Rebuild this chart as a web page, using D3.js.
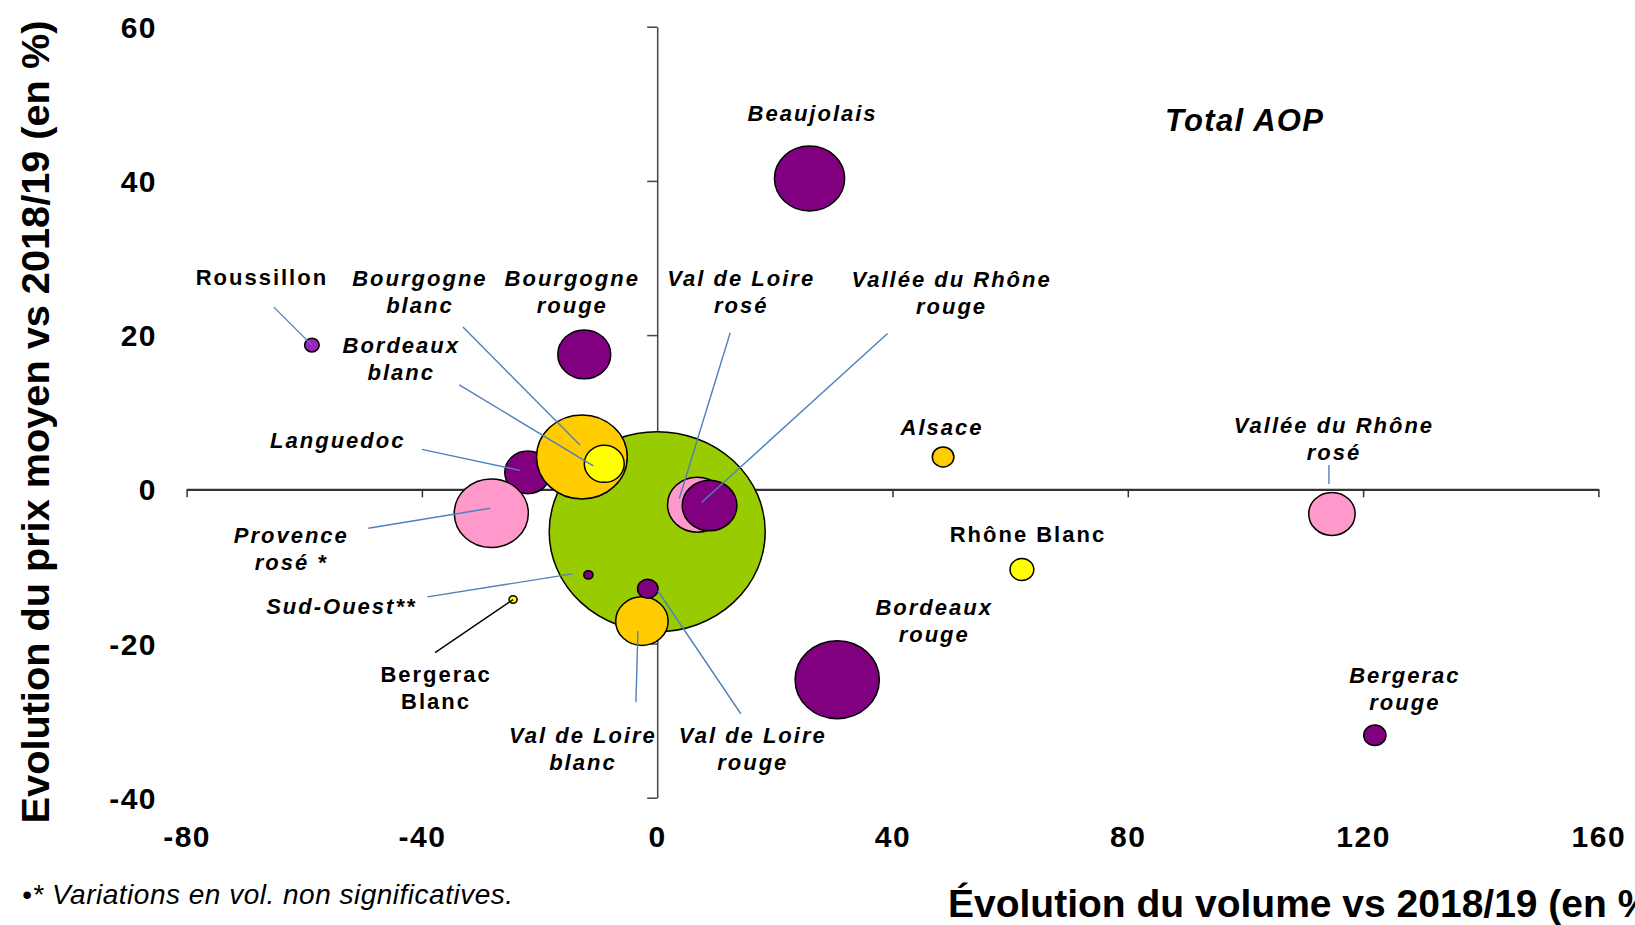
<!DOCTYPE html>
<html>
<head>
<meta charset="utf-8">
<script src="https://cdn.jsdelivr.net/npm/d3@7"></script>
<style>
  body { margin: 0; background: #fff; }
  svg { display: block; font-family: Arial, "Liberation Sans", sans-serif; }
</style>
</head>
<body>
<div id="bdy"></div>
<script>
var width = 1635;
var height = 925;

// appellations, drawn in this order (Excel series order)
var names = ["Total AOP", "Languedoc", "Provence\nrosé *", "Bourgogne\nblanc", "Bordeaux\nblanc",
    "Bourgogne\nrouge", "Roussillon", "Beaujolais", "Val de Loire\nrosé", "Vallée du Rhône\nrouge",
    "Alsace", "Vallée du Rhône\nrosé", "Rhône Blanc", "Sud-Ouest**", "Bergerac\nBlanc",
    "Val de Loire\nblanc", "Val de Loire\nrouge", "Bordeaux\nrouge", "Bergerac\nrouge"];
// evolution du volume vs 2018/19 (%)
var volEvol = [0, -22.0, -28.2, -12.8, -9.0, -12.4, -58.7, 25.9, 6.8, 8.9,
    48.6, 114.7, 62.0, -11.7, -24.5, -2.6, -1.6, 30.6, 122.0];
// evolution du prix moyen vs 2018/19 (%)
var prixEvol = [-5.5, 2.2, -3.1, 4.2, 3.3, 17.5, 18.7, 40.3, -2.0, -2.1,
    4.2, -3.2, -10.4, -11.1, -14.3, -17.1, -12.9, -24.7, -31.9];
// bubble size (volume, indice)
var volumes = [10000, 454, 1176, 1764, 342, 600, 46, 1056, 756, 640,
    100, 462, 121, 18, 14, 590, 90, 1521, 106];
// couleur par type de vin
var types = ["total", "rouge", "rose", "blanc2", "blanc", "rouge", "roussillon", "rouge", "rose", "rouge",
    "blanc2", "rose", "blanc", "rouge", "blanc", "blanc2", "rouge", "rouge", "rouge"];

var xTicks = [-80, -40, 0, 40, 80, 120, 160];
var yTicks = [-40, -20, 0, 20, 40, 60];

var colors = {
    total: "#99cc00", rouge: "#800080", rose: "#ff99cc",
    blanc: "#ffff00", blanc2: "#ffcc00", roussillon: "#a020c0"
};

// label placement, px offsets from the bubble centre
// [dx, dy, leader x1, y1, x2, y2, italic]
var labelLayout = {
    "Languedoc": [-190, -24, -106, -23, -8, -2, 1],
    "Provence\nrosé *": [-200, 30, -123, 15, -1, -5, 1],
    "Bourgogne\nblanc": [-162, -171, -119, -130, -2, -12, 1],
    "Bordeaux\nblanc": [-203, -111, -145, -79, -11, 2, 1],
    "Bourgogne\nrouge": [-12, -68, null, 0, 0, 0, 1],
    "Roussillon": [-50, -60, -38, -38, 0, 0, 0],
    "Beaujolais": [3, -58, null, 0, 0, 0, 1],
    "Val de Loire\nrosé": [44, -219, 33, -172, -18, -6, 1],
    "Vallée du Rhône\nrouge": [242, -218, 178, -172, -8, -3, 1],
    "Alsace": [-1, -22, null, 0, 0, 0, 1],
    "Vallée du Rhône\nrosé": [2, -81, -3, -49, -3, -30, 1],
    "Rhône Blanc": [6, -27, null, 0, 0, 0, 0],
    "Sud-Ouest**": [-247, 39, -161, 22, -16, -1, 1],
    "Bergerac\nBlanc": [-77, 82, -78, 53, 0, 0, 0],
    "Val de Loire\nblanc": [-59, 122, -6, 81, -4, 10, 1],
    "Val de Loire\nrouge": [105, 154, 93, 125, 10, 2, 1],
    "Bordeaux\nrouge": [97, -65, null, 0, 0, 0, 1],
    "Bergerac\nrouge": [30, -52, null, 0, 0, 0, 1]
};

var data = names.map(function(n, i) {
    return {name: n, x: volEvol[i], y: prixEvol[i], size: volumes[i], type: types[i]};
});

var svg = d3.select('#bdy').append('svg')
    .attr('width', width)
    .attr('height', height);

var xScale = d3.scaleLinear().domain([-80, 160]).range([186.6, 1598.4]);
var yScale = d3.scaleLinear().domain([-40, 60]).range([797.7, 26.7]);
var rScale = d3.scaleSqrt().domain([0, 10000]).range([0, 100]);

var x0 = xScale(0), y0 = yScale(0);
// plain hyphen for negative numbers, like the original
var fmt = function(d) { return String(d); };

// y axis (labels pushed out to the left edge)
var yAxis = svg.append('g')
    .attr('transform', 'translate(' + x0 + ',0)')
    .call(d3.axisLeft(yScale).tickValues(yTicks).tickSize(10).tickSizeOuter(0)
        .tickPadding(x0 - 157 - 10).tickFormat(fmt));
yAxis.select('.domain').attr('stroke', '#444').attr('stroke-width', 1.5);
yAxis.selectAll('.tick line').attr('stroke', '#444').attr('stroke-width', 1.5);
yAxis.selectAll('.tick text')
    .attr('fill', '#000')
    .style('font-size', '30px')
    .style('font-weight', 'bold')
    .style('letter-spacing', '1.5px')
    .attr('dy', '0.35em');

// x axis (labels pushed down to the bottom)
var xAxis = svg.append('g')
    .attr('transform', 'translate(0,' + y0 + ')')
    .call(d3.axisBottom(xScale).tickValues(xTicks).tickSize(8).tickSizeOuter(0)
        .tickPadding(yScale(-40) + 28 - y0 - 8).tickFormat(fmt));
xAxis.select('.domain').attr('stroke', '#333').attr('stroke-width', 2.2);
xAxis.selectAll('.tick line').attr('stroke', '#333').attr('stroke-width', 1.5);
xAxis.selectAll('.tick text')
    .attr('fill', '#000')
    .style('font-size', '30px')
    .style('font-weight', 'bold')
    .style('letter-spacing', '1.5px');

// bubbles
svg.append('g').selectAll('ellipse')
    .data(data)
    .enter().append('ellipse')
    .attr('cx', function(d) { return xScale(d.x); })
    .attr('cy', function(d) { return yScale(d.y); })
    .attr('rx', function(d) { return rScale(d.size) * 1.08; })
    .attr('ry', function(d) { return rScale(d.size); })
    .attr('fill', function(d) { return colors[d.type]; })
    .attr('stroke', '#000')
    .attr('stroke-width', 1.5);

// leader lines
var labelled = data.filter(function(d) { return labelLayout[d.name]; });
svg.append('g').selectAll('line')
    .data(labelled.filter(function(d) { return labelLayout[d.name][2] !== null; }))
    .enter().append('line')
    .attr('x1', function(d) { return xScale(d.x) + labelLayout[d.name][2]; })
    .attr('y1', function(d) { return yScale(d.y) + labelLayout[d.name][3]; })
    .attr('x2', function(d) { return xScale(d.x) + labelLayout[d.name][4]; })
    .attr('y2', function(d) { return yScale(d.y) + labelLayout[d.name][5]; })
    .attr('stroke', function(d) { return d.name == "Bergerac\nBlanc" ? '#000' : '#4f81bd'; })
    .attr('stroke-width', 1.4);

// labels
var lbl = svg.append('g').selectAll('text')
    .data(labelled)
    .enter().append('text')
    .attr('text-anchor', 'middle')
    .style('font-size', '22px')
    .style('font-weight', 'bold')
    .style('letter-spacing', '2px')
    .style('font-style', function(d) { return labelLayout[d.name][6] ? 'italic' : 'normal'; })
    .attr('fill', '#000');
lbl.each(function(d) {
    var lx = xScale(d.x) + labelLayout[d.name][0];
    var ly = yScale(d.y) + labelLayout[d.name][1];
    d3.select(this).selectAll('tspan')
        .data(d.name.split('\n'))
        .enter().append('tspan')
        .attr('x', lx)
        .attr('y', function(t, i) { return ly + i * 27; })
        .text(function(t) { return t; });
});

// total label
svg.append('text')
    .attr('x', 1165)
    .attr('y', 131)
    .style('font-size', '31px')
    .style('font-weight', 'bold')
    .style('font-style', 'italic')
    .style('letter-spacing', '1.3px')
    .text('Total AOP');

// axis titles
svg.append('text')
    .attr('transform', 'translate(48.5,422) rotate(-90)')
    .attr('text-anchor', 'middle')
    .style('font-size', '39.7px')
    .style('font-weight', 'bold')
    .text('Evolution du prix moyen vs 2018/19 (en %)');

svg.append('text')
    .attr('x', 948)
    .attr('y', 917)
    .style('font-size', '39px')
    .style('font-weight', 'bold')
    .text('Évolution du volume vs 2018/19 (en %)');

// footnote
svg.append('text')
    .attr('x', 22)
    .attr('y', 904)
    .style('font-size', '28px')
    .style('font-style', 'italic')
    .style('letter-spacing', '0.5px')
    .text('•* Variations en vol. non significatives.');
</script>
</body>
</html>
